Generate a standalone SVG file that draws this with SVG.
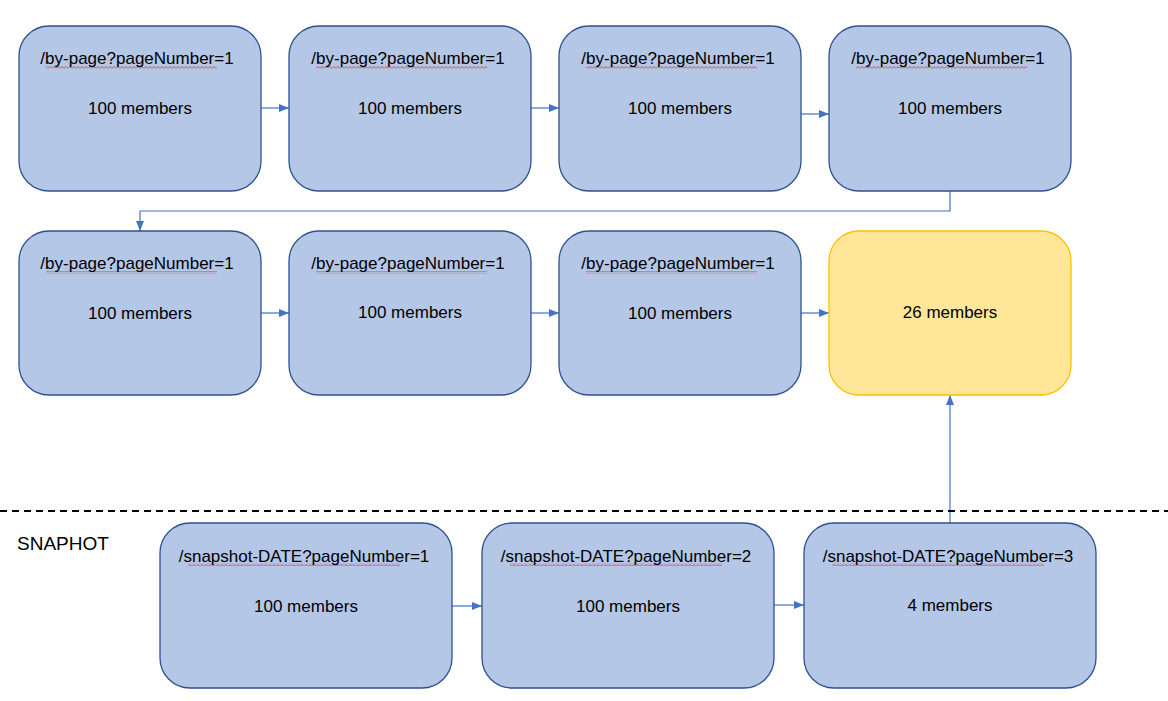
<svg xmlns="http://www.w3.org/2000/svg" width="1168" height="701" viewBox="0 0 1168 701">
<style>
.box{fill:#B4C7E7;stroke:#2F528F;stroke-width:1.3}
.ybox{fill:#FFE699;stroke:#FFC000;stroke-width:1.3}
.t{font-family:"Liberation Sans",Arial,sans-serif;font-size:17px;fill:#000;text-anchor:middle}
.lbl{font-family:"Liberation Sans",Arial,sans-serif;font-size:19px;fill:#000}
.c{fill:none;stroke:#4472C4;stroke-width:1.2}
.sq{fill:url(#squig)}
</style>
<defs>
<marker id="ah" markerUnits="userSpaceOnUse" markerWidth="10" markerHeight="10" viewBox="0 0 10 10" refX="10" refY="5" orient="auto">
<path d="M0,1 L10,5 L0,9 Z" fill="#4472C4"/>
</marker>
<pattern id="squig" patternUnits="userSpaceOnUse" width="4" height="3">
<path d="M0,2.5 L2,0.5 L4,2.5" fill="none" stroke="#E02020" stroke-width="0.8"/>
</pattern>
</defs>

<g id="connectors">
<line class="c" x1="261" y1="108" x2="289" y2="108" marker-end="url(#ah)"/>
<line class="c" x1="531" y1="108" x2="559" y2="108" marker-end="url(#ah)"/>
<line class="c" x1="801" y1="114" x2="829" y2="114" marker-end="url(#ah)"/>
<polyline class="c" points="950,191 950,211 140,211 140,231" marker-end="url(#ah)"/>
<line class="c" x1="261" y1="313" x2="289" y2="313" marker-end="url(#ah)"/>
<line class="c" x1="531" y1="313" x2="559" y2="313" marker-end="url(#ah)"/>
<line class="c" x1="801" y1="313" x2="829" y2="313" marker-end="url(#ah)"/>
<line class="c" x1="452" y1="606" x2="482" y2="606" marker-end="url(#ah)"/>
<line class="c" x1="774" y1="605" x2="804" y2="605" marker-end="url(#ah)"/>
<line class="c" x1="950" y1="523" x2="950" y2="395" marker-end="url(#ah)"/>
</g>

<line id="divider" x1="0" y1="511" x2="1168" y2="511" stroke="#000" stroke-width="2" stroke-dasharray="7,5"/>
<text id="snaphot-label" class="lbl" x="17" y="550">SNAPHOT</text>

<g id="n1"><rect class="box" x="19" y="26" width="242" height="165" rx="30"/><rect class="sq" x="46" y="66" width="171" height="3"/><text class="t" x="137" y="64">/by-page?pageNumber=1</text><text class="t" x="140" y="114">100 members</text></g>
<g id="n2"><rect class="box" x="289" y="26" width="242" height="165" rx="30"/><rect class="sq" x="316" y="66" width="171" height="3"/><text class="t" x="408" y="64">/by-page?pageNumber=1</text><text class="t" x="410" y="114">100 members</text></g>
<g id="n3"><rect class="box" x="559" y="26" width="242" height="165" rx="30"/><rect class="sq" x="586" y="66" width="171" height="3"/><text class="t" x="678" y="64">/by-page?pageNumber=1</text><text class="t" x="680" y="114">100 members</text></g>
<g id="n4"><rect class="box" x="829" y="26" width="242" height="165" rx="30"/><rect class="sq" x="856" y="66" width="171" height="3"/><text class="t" x="948" y="64">/by-page?pageNumber=1</text><text class="t" x="950" y="114">100 members</text></g>

<g id="n5"><rect class="box" x="19" y="231" width="242" height="164" rx="30"/><rect class="sq" x="46" y="271" width="171" height="3"/><text class="t" x="137" y="269">/by-page?pageNumber=1</text><text class="t" x="140" y="319">100 members</text></g>
<g id="n6"><rect class="box" x="289" y="231" width="242" height="164" rx="30"/><rect class="sq" x="316" y="271" width="171" height="3"/><text class="t" x="408" y="269">/by-page?pageNumber=1</text><text class="t" x="410" y="318">100 members</text></g>
<g id="n7"><rect class="box" x="559" y="231" width="242" height="164" rx="30"/><rect class="sq" x="586" y="271" width="171" height="3"/><text class="t" x="678" y="269">/by-page?pageNumber=1</text><text class="t" x="680" y="319">100 members</text></g>
<g id="n8"><rect class="ybox" x="829" y="231" width="242" height="164" rx="30"/><text class="t" x="950" y="318">26 members</text></g>

<g id="s1"><rect class="box" x="160" y="523" width="292" height="165" rx="30"/><rect class="sq" x="188" y="563" width="212" height="3"/><text class="t" x="304" y="562">/snapshot-DATE?pageNumber=1</text><text class="t" x="306" y="612">100 members</text></g>
<g id="s2"><rect class="box" x="482" y="523" width="292" height="165" rx="30"/><rect class="sq" x="510" y="563" width="212" height="3"/><text class="t" x="626" y="562">/snapshot-DATE?pageNumber=2</text><text class="t" x="628" y="612">100 members</text></g>
<g id="s3"><rect class="box" x="804" y="523" width="292" height="165" rx="30"/><rect class="sq" x="832" y="563" width="212" height="3"/><text class="t" x="948" y="562">/snapshot-DATE?pageNumber=3</text><text class="t" x="950" y="611">4 members</text></g>
</svg>
